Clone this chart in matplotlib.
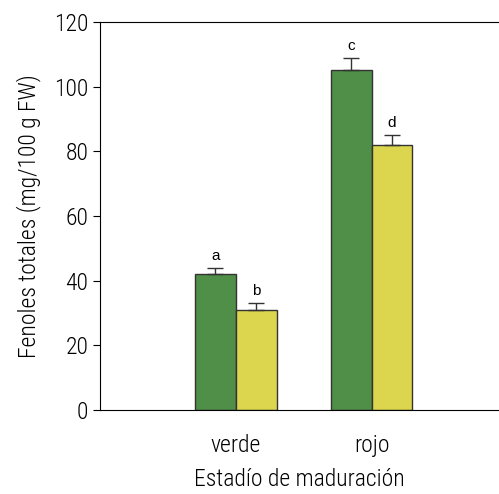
import matplotlib.pyplot as plt
import numpy as np

plt.rcParams['font.family'] = ['Roboto Condensed', 'DejaVu Sans']
plt.rcParams['font.weight'] = 'light'
plt.rcParams['axes.labelweight'] = 'light'

stages = ["verde", "rojo"]
green_vals = [42, 105]
green_err = [2, 4]
yellow_vals = [31, 82]
yellow_err = [2, 3]
green_letters = ["a", "c"]
yellow_letters = ["b", "d"]

fig = plt.figure(figsize=(4.99, 4.94), dpi=100)
ax = fig.add_axes([0.2004, 0.170, 0.80, 0.7855])

x = np.arange(len(stages))
w = 0.3
ekw = dict(ecolor="#333333", elinewidth=1, capsize=6, capthick=1)
# only upper error bars shown
ax.bar(x - w / 2, green_vals, w, yerr=[np.zeros(2), green_err], color="#4f8f47",
       edgecolor="#333333", linewidth=1, error_kw=ekw)
ax.bar(x + w / 2, yellow_vals, w, yerr=[np.zeros(2), yellow_err], color="#dcd64e",
       edgecolor="#333333", linewidth=1, error_kw=ekw)

for i in range(len(stages)):
    ax.text(x[i] - w / 2, green_vals[i] + green_err[i] + 1.5, green_letters[i],
            ha="center", va="bottom", fontsize=11, family="Liberation Sans", weight="normal")
    ax.text(x[i] + w / 2, yellow_vals[i] + yellow_err[i] + 1.5, yellow_letters[i],
            ha="center", va="bottom", fontsize=11, family="Liberation Sans", weight="normal")

ax.set_xlim(-1, 1.94)
ax.set_ylim(0, 120)
ax.set_yticks(range(0, 121, 20))
ax.set_xticks(x)
ax.set_xticklabels(stages, fontsize=17)
ax.spines["right"].set_visible(False)
ax.tick_params(axis="y", labelsize=17, length=5, direction="out")
ax.tick_params(axis="x", length=0, pad=17)
ax.set_ylabel("Fenoles totales (mg/100 g FW)", fontsize=17, labelpad=9)
ax.set_xlabel("Estadío de maduración", fontsize=17, labelpad=8)

plt.savefig("out.png", dpi=100)
